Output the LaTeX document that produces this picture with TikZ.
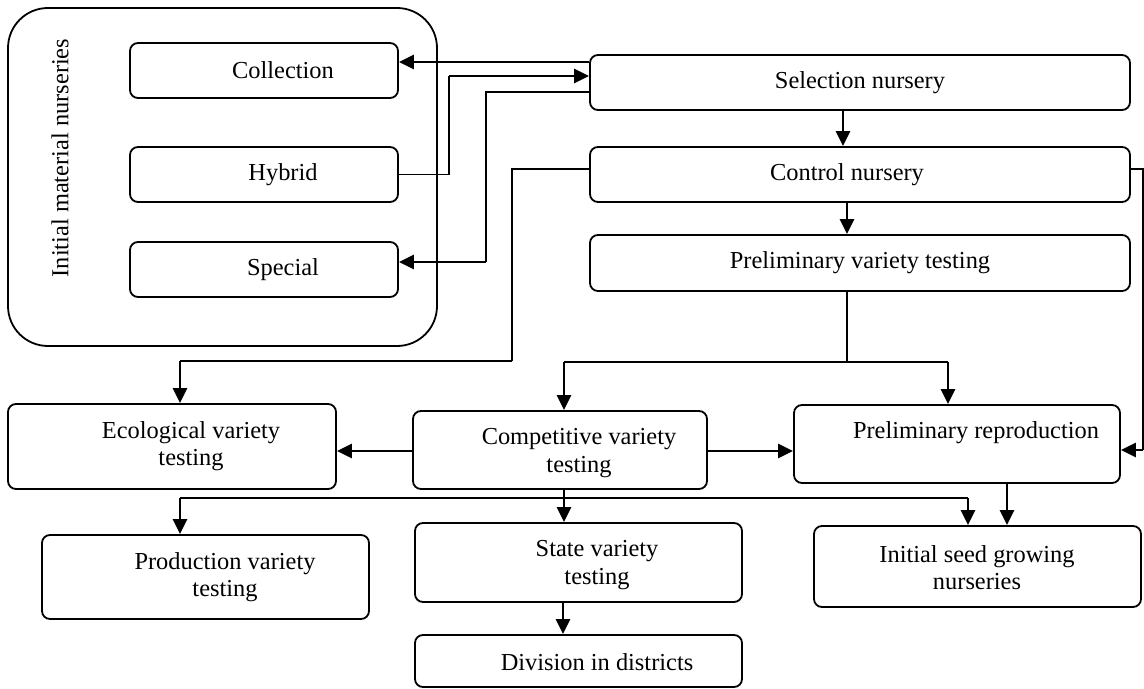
\documentclass[tikz,border=0pt]{standalone}
\usepackage{fontspec}
\setmainfont{Liberation Serif}
\usetikzlibrary{arrows.meta}
\begin{document}
\begin{tikzpicture}[x=0.5pt,y=-0.5pt,
  box/.style={draw, rounded corners=4pt, line width=0.9pt, inner sep=0pt},
  lbl/.style={align=center, font=\fontsize{12.2}{13.6}\selectfont, inner sep=0pt},
  arr/.style={line width=1.4pt, -{Triangle[length=7.5pt,width=7pt]}},
  thk/.style={line width=1.4pt},
  thn/.style={line width=0.7pt}]
\useasboundingbox (0,0) rectangle (1144,689);
% outer group
\node[box, rounded corners=20pt, minimum width=214.5pt, minimum height=169pt] (grp) at (222.5,177) {};
\node[lbl, rotate=90] (grpl) at (60,158) {Initial material nurseries};
% boxes
\node[box, minimum width=134pt, minimum height=27.5pt] (col) at (264,70.5) {};
\node[lbl] at (283,70.5) {Collection};
\node[box, minimum width=134pt, minimum height=27.5pt] (hyb) at (264,174.5) {};
\node[lbl] at (283,174.5) {Hybrid};
\node[box, minimum width=134pt, minimum height=27.5pt] (spe) at (264,269.5) {};
\node[lbl] at (283,269.5) {Special};
\node[box, minimum width=270pt, minimum height=27.5pt] (sel) at (860,82.5) {};
\node[lbl] at (860,82.5) {Selection nursery};
\node[box, minimum width=270pt, minimum height=27.5pt] (con) at (860,174.5) {};
\node[lbl] at (847,174.5) {Control nursery};
\node[box, minimum width=270pt, minimum height=28pt] (pvt) at (860,263) {};
\node[lbl] at (860,263) {Preliminary variety testing};
\node[box, minimum width=164pt, minimum height=42.5pt] (eco) at (172,446.5) {};
\node[lbl] at (191,446.5) {Ecological variety\\testing};
\node[box, minimum width=147pt, minimum height=39pt] (cmp) at (560,450) {};
\node[lbl] at (579,453) {Competitive variety\\testing};
\node[box, minimum width=163pt, minimum height=39pt] (prep) at (957,444) {};
\node[lbl] at (976,433) {Preliminary reproduction};
\node[box, minimum width=163.5pt, minimum height=42pt] (pro) at (205.5,577) {};
\node[lbl] at (225,577) {Production variety\\testing};
\node[box, minimum width=163.5pt, minimum height=39.5pt] (sta) at (578.5,562.5) {};
\node[lbl] at (597,565) {State variety\\testing};
\node[box, minimum width=163.5pt, minimum height=26pt] (div) at (578.5,661) {};
\node[lbl] at (597,662) {Division in districts};
\node[box, minimum width=163.5pt, minimum height=40.5pt] (ini) at (977.5,566.5) {};
\node[lbl] at (977,568) {Initial seed growing\\nurseries};
% connectors
\draw[arr] ([yshift=10.25pt]sel.west) coordinate (s1) -- (s1 -| col.east);
\coordinate (s2) at ([yshift=3.25pt]sel.west);
\draw[thn] (hyb.east) -- ++(50,0) coordinate (h1) -- (h1 |- s2);
\draw[arr] (h1 |- s2) -- (s2);
\coordinate (sp3) at ([yshift=3.75pt]spe.east);
\draw[thn] ([yshift=-4.75pt]sel.west) -- ++(-103,0) coordinate (h2) -- (h2 |- sp3);
\draw[arr] (h2 |- sp3) -- (sp3);
\coordinate (e4) at ([xshift=4pt]eco.north);
\draw[thn] ([yshift=2.75pt]con.west) -- ++(-77,0) coordinate (h3) -- ++(0,192) coordinate (h4);
\draw[thk] (h4) -- (h4 -| e4);
\draw[arr] (h4 -| e4) -- (e4);
\draw[arr] ([xshift=-8.5pt]sel.south) -- ([xshift=-8.5pt]con.north);
\draw[arr] ([xshift=-6.5pt]con.south) -- ([xshift=-6.5pt]pvt.north);
\coordinate (c7) at ([xshift=2pt]cmp.north);
\coordinate (r7) at ([xshift=-4.5pt]prep.north);
\draw[thn] ([xshift=-6.5pt]pvt.south) -- ++(0,70) coordinate (j7);
\draw[thk] (j7 -| c7) -- (j7 -| r7);
\draw[arr] (j7 -| c7) -- (c7);
\draw[arr] (j7 -| r7) -- (r7);
\coordinate (r8) at ([yshift=-3pt]prep.east);
\draw[thn] ([yshift=2.75pt]con.east) -- ++(12,0) coordinate (h8) -- (h8 |- r8);
\draw[arr] (h8 |- r8) -- (r8);
\draw[arr] ([yshift=-0.5pt]cmp.west) coordinate (q1) -- (q1 -| eco.east);
\draw[arr] ([yshift=-0.5pt]cmp.east) coordinate (q2) -- (q2 -| prep.west);
\draw[arr] ([xshift=2pt]cmp.south) coordinate (c11) -- (c11 |- sta.north);
\coordinate (p12) at ([xshift=-12.75pt]pro.north);
\coordinate (i12) at ([xshift=-4.75pt]ini.north);
\path (c11) -- ++(0,8) coordinate (j12);
\draw[thk] (j12 -| p12) -- (j12 -| i12);
\draw[arr] (j12 -| p12) -- (p12);
\draw[arr] (j12 -| i12) -- (i12);
\draw[arr] ([xshift=25pt]prep.south) coordinate (p13) -- (p13 |- ini.north);
\draw[arr] ([xshift=-7.75pt]sta.south) coordinate (d14) -- (d14 |- div.north);
\end{tikzpicture}
\end{document}
